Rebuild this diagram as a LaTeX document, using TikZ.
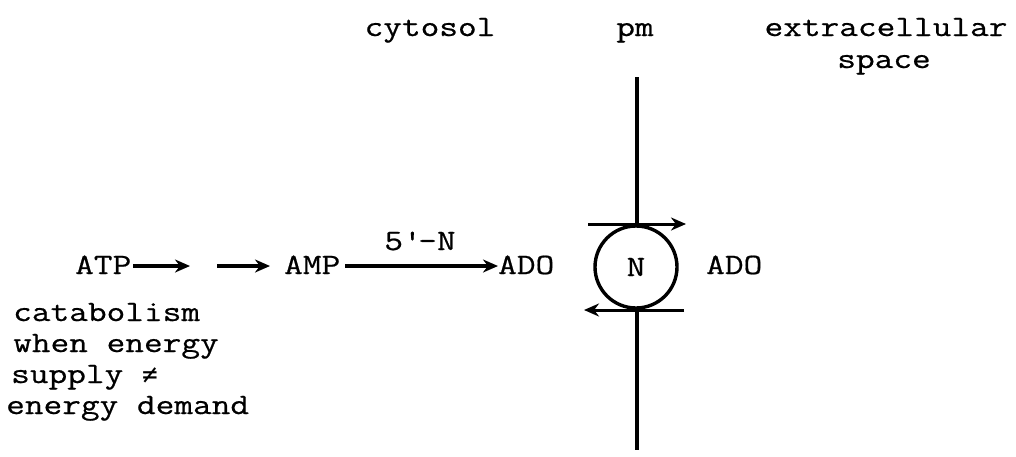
\documentclass[tikz,border=0pt]{standalone}
\usepackage{fontspec}
\setmainfont{Latin Modern Mono}[FakeStretch=1.23,FakeBold=0.6]
\newfontfamily\symfont{DejaVu Sans Mono}
\usetikzlibrary{arrows.meta}
\begin{document}
\begin{tikzpicture}[x=1pt,y=-1pt,
  lbl/.style={inner sep=0pt,font=\fontsize{29.5}{31}\selectfont},
  rx/.style={line width=3.2pt,-{Stealth[length=15pt,width=13pt]}},
  mem/.style={line width=4pt}]
\useasboundingbox (0,0) rectangle (1016,456);
% headings
\node[lbl,anchor=base] (cyt) at (430,36) {cytosol};
\node[lbl,anchor=base] (pm) at (635,36) {pm};
\node[lbl,anchor=base] (ext) at (886,36) {extracellular};
\node[lbl,anchor=base] (spc) at (884,68) {space};
% reaction chain
\node[lbl,anchor=base west] (atp) at (75,274) {ATP};
\coordinate (mid1) at (190,266);
\coordinate (mid2) at (217,266);
\coordinate (amp1) at (270,266);
\node[lbl,anchor=base west] (amp) at (284,274) {AMP};
\node[lbl,anchor=base west] (ado1) at (498,274) {ADO};
\node[lbl,anchor=base] (nt) at (420,250) {5\textquotesingle-N};
\draw[rx] (atp.east |- 0,266) ++(2,0) coordinate (a1) -- (mid1);
\draw[rx] (mid2) -- (amp1);
\draw[rx] (amp.east |- 0,266) ++(5,0) coordinate (a2) -- (ado1.west |- 0,266);
% membrane and transporter
\node[draw,circle,line width=3.4pt,minimum size=82pt,inner sep=0pt,lbl] (N) at (636,267) {N};
\coordinate (mtop) at (637,77);
\coordinate (mbot) at (637,450);
\draw[mem] (mtop) -- (N.north -| mtop);
\draw[mem] (N.south -| mbot) -- (mbot);
\coordinate (tl) at (588,224);
\coordinate (tr) at (686,224);
\coordinate (bl) at (584,310);
\coordinate (br) at (684,310);
\draw[rx,line width=3pt] (tl) -- (tr);
\draw[rx,line width=3pt] (br) -- (bl);
\node[lbl,anchor=base west] (ado2) at (706,274) {ADO};
% left text
\node[lbl,anchor=base west] (t1) at (13,321) {catabolism};
\node[lbl,anchor=base west] (t2) at (13,352) {when energy};
\node[lbl,anchor=base west] (t3) at (11,383) {supply {\symfont\fontsize{26}{31}\selectfont ≠}};
\node[lbl,anchor=base west] (t4) at (6,414) {energy demand};
\end{tikzpicture}
\end{document}
